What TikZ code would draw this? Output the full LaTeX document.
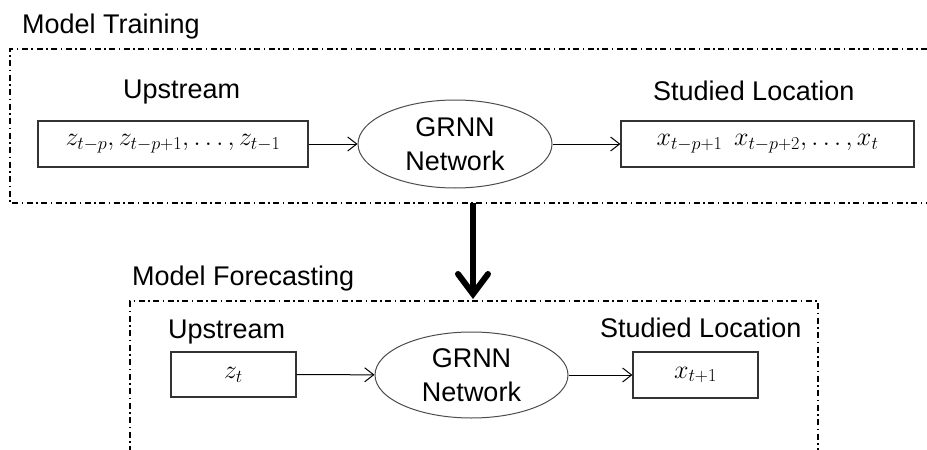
\RequirePackage{fix-cm}
\documentclass[tikz,border=0pt]{standalone}
\usepackage{amsmath}
\usepackage{fontspec}
\setmainfont{Liberation Sans}
\usetikzlibrary{arrows.meta,shapes.geometric}

\tikzset{
  lbl/.style={anchor=base west,inner sep=0pt,font=\fontsize{27}{34}\selectfont},
  databox/.style={draw=black!80,line width=1.2pt,inner sep=0pt,
    font=\fontsize{26}{30}\selectfont},
  netnode/.style={ellipse,draw=black!70,line width=1pt,inner sep=0pt,
    align=center,font=\fontsize{27}{34}\selectfont},
  frame/.style={line width=1.1pt,dash pattern=on 6pt off 3.5pt on 1.5pt off 3.5pt},
  flow/.style={line width=1pt,-{Straight Barb[length=9pt,width=14pt]}},
  stage/.style={line width=6pt,-{Straight Barb[length=20pt,width=30pt,line cap=round]}}
}

\begin{document}
\begin{tikzpicture}[x=1pt,y=-1pt]
\useasboundingbox (0,0) rectangle (927,450);

% training stage
\node[lbl] (trainT) at (22,33) {Model Training};
\draw[frame] (927,49) -- (10,49) -- (10,203) -- (927,203);
\node[lbl] (upT) at (123,98) {Upstream};
\node[lbl] (locT) at (653,100) {Studied Location};
\node[databox,minimum width=270pt,minimum height=46pt] (zin) at (173,144)
  {$z_{t-p}, z_{t-p+1}, \ldots, z_{t-1}$};
\node[netnode,minimum width=194pt,minimum height=88pt] (net1) at (455,144)
  {GRNN\\Network};
\node[databox,minimum width=293pt,minimum height=46pt] (xout) at (767.5,144)
  {$x_{t-p+1}\;\, x_{t-p+2}, \ldots, x_t$};
\draw[flow] (zin) -- (net1);
\draw[flow] (net1) -- (xout);

% from training to forecasting
\coordinate (stA) at (473,203);
\coordinate (stB) at (473,299);
\draw[stage] (stA) -- (stB);

% forecasting stage
\node[lbl] (foreT) at (132,285) {Model Forecasting};
\draw[frame] (130,452) -- (130,301) -- (818,301) -- (818,452);
\node[lbl] (upF) at (168,338) {Upstream};
\node[lbl] (locF) at (600,337) {Studied Location};
\node[databox,minimum width=125pt,minimum height=45pt] (zt) at (233.5,374.5) {$z_t$};
\node[netnode,minimum width=193pt,minimum height=86pt] (net2) at (471.5,375)
  {GRNN\\Network};
\node[databox,minimum width=125pt,minimum height=46pt] (xt1) at (695.5,375) {$x_{t+1}$};
\draw[flow] (zt) -- (net2);
\draw[flow] (net2) -- (xt1);
\end{tikzpicture}
\end{document}
